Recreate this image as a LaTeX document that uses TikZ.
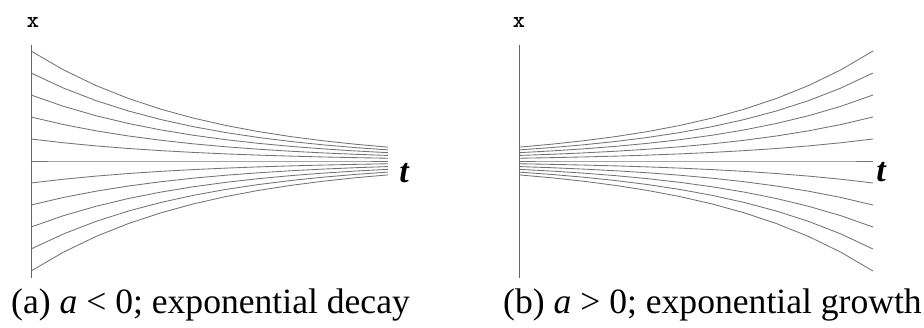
\documentclass[tikz,border=0pt]{standalone}
\usepackage{fontspec}
\setmainfont{Liberation Serif}
\begin{document}
\begin{tikzpicture}[x=1pt,y=-1pt,
  curve/.style={draw=black!55, line width=0.85pt},
  axisline/.style={draw=black!60, line width=0.9pt},
  caption/.style={font=\fontsize{35.6}{40}\selectfont, anchor=base west, inner sep=0pt},
  tlabel/.style={font=\fontsize{34}{40}\selectfont\bfseries\itshape, inner sep=0pt},
  xlabel/.style={font=\fontsize{23}{26}\selectfont\ttfamily\bfseries, inner sep=0pt}]
\useasboundingbox (0,0) rectangle (924,327);
% left panel
\coordinate (latop) at (31,45);
\coordinate (labot) at (31,278);
\draw[axisline] (latop) -- (labot);
\foreach \k in {-5,...,5}
  \draw[curve] plot[domain=0:1, samples=12] ({31+357*\x}, {161-22*\k*exp(-2.07*\x)});
\node[xlabel] (lx) at (33,22) {x};
\node[tlabel] (lt) at (404,173) {t};
\node[caption] (lcap) at (11,313) {(a)\ \textit{a} < 0; exponential decay};
% right panel
\coordinate (ratop) at (519,45);
\coordinate (rabot) at (519,278);
\draw[axisline] (ratop) -- (rabot);
\foreach \k in {-5,...,5}
  \draw[curve] plot[domain=0:1, samples=12] ({519+354*\x}, {161-22*\k*exp(-2.07*(1-\x))});
\node[xlabel] (rx) at (519,22) {x};
\node[tlabel] (rt) at (881,172) {t};
\node[caption] (rcap) at (503,313) {(b)\ \textit{a} > 0; exponential growth};
\end{tikzpicture}
\end{document}
